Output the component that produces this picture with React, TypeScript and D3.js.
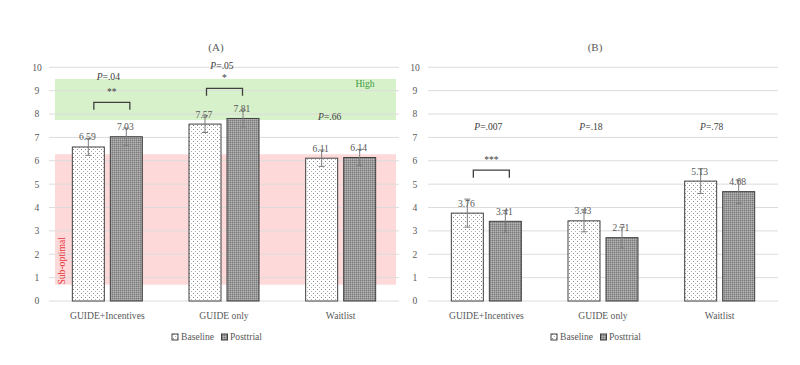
import React from "react";
import * as d3 from "d3";

const categories = ["GUIDE+Incentives", "GUIDE only", "Waitlist"];
const seriesNames = ["Baseline", "Posttrial"];

const baselineA = [6.59, 7.57, 6.11];
const posttrialA = [7.03, 7.81, 6.14];
const errBaselineA = [0.36, 0.36, 0.35];
const errPosttrialA = [0.37, 0.36, 0.35];
const pLabelsA = ["=.04", "=.05", "=.66"];
const pLevelsA = [9.62, 10.08, 7.9];
const starsA = ["**", "*", ""];
const bracketLevelsA = [8.5, 9.1, null];

const baselineB = [3.76, 3.43, 5.13];
const posttrialB = [3.41, 2.71, 4.68];
const errBaselineB = [0.6, 0.47, 0.53];
const errPosttrialB = [0.47, 0.45, 0.5];
const pLabelsB = ["=.007", "=.18", "=.78"];
const pLevelsB = [7.45, 7.45, 7.45];
const starsB = ["***", "", ""];
const bracketLevelsB = [5.6, null, null];

const yTicks = [0, 1, 2, 3, 4, 5, 6, 7, 8, 9, 10];
const highBand = [7.74, 9.5];
const subOptimalBand = [0.7, 6.28];

const FONT = "'Liberation Serif', 'DejaVu Serif', serif";
const TEXT = "#595959";
const FS = 9.6;

type PanelProps = {
  title: string;
  x0: number;
  x1: number;
  tickX: number;
  baseline: number[];
  posttrial: number[];
  errB: number[];
  errP: number[];
  pLabels: string[];
  pLevels: number[];
  pShift: number[];
  stars: string[];
  brackets: (number | null)[];
  bracketShift: number[];
  zones: boolean;
  legendX: number;
};

function Panel(props: PanelProps) {
  const { x0, x1, baseline, posttrial, errB, errP } = props;
  const y = d3.scaleLinear().domain([0, 10]).range([301, 67.3]);
  const x = d3.scaleBand<string>().domain(categories).range([x0, x1]).paddingInner(0.4).paddingOuter(0.2);
  const inner = d3.scaleBand<string>().domain(seriesNames).range([0, x.bandwidth()]).paddingInner(6 / 38);
  const values = [baseline, posttrial];
  const errs = [errB, errP];
  const fills = ["url(#dots)", "url(#cross)"];
  const bw = inner.bandwidth();
  const mid = (c: string) => (x(c) as number) + x.bandwidth() / 2;

  return (
    <g>
      <text x={(x0 + x1) / 2 - 8} y={51} textAnchor="middle" fontSize={11} fill={TEXT}>
        {props.title}
      </text>
      {props.zones && (
        <g>
          <rect x={x0 + 6} width={x1 - x0 - 9} y={y(highBand[1])} height={y(highBand[0]) - y(highBand[1])} fill="#d7f1cb" />
          <rect x={x0 + 6} width={x1 - x0 - 9} y={y(subOptimalBand[1])} height={y(subOptimalBand[0]) - y(subOptimalBand[1])} fill="#fdd9d9" />
        </g>
      )}
      {yTicks.map((t) => (
        <g key={t}>
          <line x1={x0} x2={x1} y1={y(t)} y2={y(t)} stroke="#dcdcdc" strokeWidth={1} />
          <text x={props.tickX} y={y(t) + 3.4} textAnchor="middle" fontSize={FS} fill={TEXT}>
            {t}
          </text>
        </g>
      ))}
      {props.zones && (
        <g>
          <text x={365} y={86.5} textAnchor="middle" fontSize={FS} fill="#3b9a3b">High</text>
          <text transform={`translate(65,${y(1.72)}) rotate(-90)`} textAnchor="middle" fontSize={FS} fill="#e8343a">
            Sub-optimal
          </text>
        </g>
      )}
      {categories.map((c, ci) => (
        <g key={c}>
          {seriesNames.map((s, si) => {
            const v = values[si][ci];
            const e = errs[si][ci];
            const bx = (x(c) as number) + (inner(s) as number);
            const cx = bx + bw / 2;
            return (
              <g key={s}>
                <rect x={bx} y={y(v)} width={bw} height={y(0) - y(v)} fill={fills[si]} stroke="#404040" strokeWidth={1} />
                <line x1={cx} x2={cx} y1={y(v + e)} y2={y(v - e)} stroke="#7f7f7f" strokeWidth={1} />
                <line x1={cx - 3} x2={cx + 3} y1={y(v + e)} y2={y(v + e)} stroke="#7f7f7f" strokeWidth={1} />
                <line x1={cx - 3} x2={cx + 3} y1={y(v - e)} y2={y(v - e)} stroke="#7f7f7f" strokeWidth={1} />
                <text x={cx - 1} y={y(v) - 6.5} textAnchor="middle" fontSize={FS} fill={TEXT}>
                  {v.toFixed(2)}
                </text>
              </g>
            );
          })}
          <text x={mid(c)} y={319} textAnchor="middle" fontSize={FS} fill={TEXT}>
            {c}
          </text>
          <text x={mid(c) + props.pShift[ci]} y={y(props.pLevels[ci]) + 3.4} textAnchor="middle" fontSize={FS} fill="#404040">
            <tspan fontStyle="italic">P</tspan>
            {props.pLabels[ci]}
          </text>
          {props.stars[ci] && props.brackets[ci] !== null && (() => {
            const by = y(props.brackets[ci] as number);
            const bc = mid(c) + props.bracketShift[ci];
            return (
              <g>
                <text x={bc} y={by - 7} textAnchor="middle" fontSize={FS} fill="#404040">
                  {props.stars[ci]}
                </text>
                <path
                  d={`M${bc - 18},${by + 7.5}V${by}H${bc + 18}V${by + 7.5}`}
                  fill="none"
                  stroke="#404040"
                  strokeWidth={1.3}
                />
              </g>
            );
          })()}
        </g>
      ))}
      <g transform={`translate(${props.legendX},337)`}>
        <rect x={0} y={-3} width={6} height={6} fill="url(#dots)" stroke="#404040" strokeWidth={1} />
        <text x={9} y={3.4} fontSize={FS} fill={TEXT}>Baseline</text>
        <rect x={49.5} y={-3} width={6} height={6} fill="url(#cross)" stroke="#404040" strokeWidth={1} />
        <text x={58} y={3.4} fontSize={FS} fill={TEXT}>Posttrial</text>
      </g>
    </g>
  );
}

export default function App() {
  return (
    <svg
      width={800}
      height={365}
      style={{ position: "absolute", left: 0, top: 0, background: "#fff" }}
      fontFamily={FONT}
    >
      <defs>
        <pattern id="dots" width={4} height={4} patternUnits="userSpaceOnUse">
          <rect width={4} height={4} fill="#ffffff" />
          <rect x={1} y={1} width={1} height={1} fill="#8c8c8c" />
          <rect x={3} y={3} width={1} height={1} fill="#b0b0b0" />
        </pattern>
        <pattern id="cross" width={2} height={2} patternUnits="userSpaceOnUse">
          <rect width={2} height={2} fill="#9a9a9a" />
          <rect x={0} y={0} width={1} height={1} fill="#7a7a7a" />
          <rect x={1} y={1} width={1} height={1} fill="#b4b4b4" />
        </pattern>
      </defs>
      <rect width={800} height={365} fill="#fff" />
      <Panel
        title="(A)"
        x0={49}
        x1={399}
        tickX={37}
        baseline={baselineA}
        posttrial={posttrialA}
        errB={errBaselineA}
        errP={errPosttrialA}
        pLabels={pLabelsA}
        pLevels={pLevelsA}
        pShift={[1, -2, -11]}
        stars={starsA}
        brackets={bracketLevelsA}
        bracketShift={[4.5, 0.5, 0]}
        zones={true}
        legendX={172}
      />
      <Panel
        title="(B)"
        x0={428}
        x1={778}
        tickX={415}
        baseline={baselineB}
        posttrial={posttrialB}
        errB={errBaselineB}
        errP={errPosttrialB}
        pLabels={pLabelsB}
        pLevels={pLevelsB}
        pShift={[2, -12, -8]}
        stars={starsB}
        brackets={bracketLevelsB}
        bracketShift={[5, 0, 0]}
        zones={false}
        legendX={551}
      />
    </svg>
  );
}
